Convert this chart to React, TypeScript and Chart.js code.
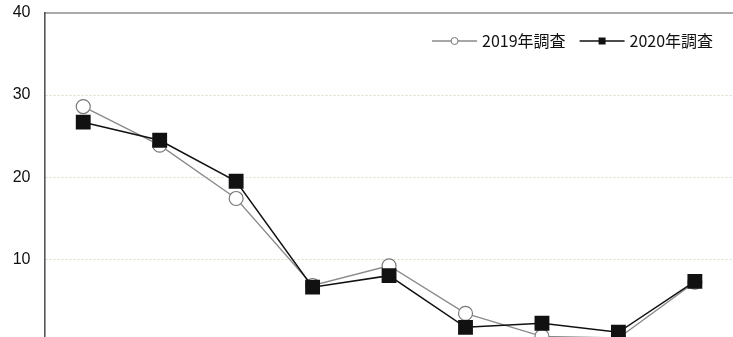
import React, { useEffect, useRef } from "react";
import { Chart, registerables } from "chart.js";

Chart.register(...registerables);

const categories = ["1", "2", "3", "4", "5", "6", "7", "8", "9"];
const series2019 = [28.6, 23.9, 17.4, 6.8, 9.2, 3.4, 0.6, 0.4, 7.2];
const series2020 = [26.7, 24.5, 19.5, 6.6, 8.0, 1.7, 2.2, 1.1, 7.3];
const seriesLabels = ["2019年調査", "2020年調査"];
const yTicks = [10, 20, 30, 40];

const legendPlugin = {
  id: "lineMarkerLegend",
  afterDraw(chart: any) {
    const { ctx, chartArea } = chart;
    const font = '16px "Noto Sans CJK JP", "Noto Sans", sans-serif';
    ctx.save();
    ctx.font = font;
    const sampleW = 45;
    const gapText = 5;
    const gapItem = 14;
    const y = chartArea.top + 28;
    const items = [
      { label: seriesLabels[0], line: "#8a8a8a", marker: "circle" },
      { label: seriesLabels[1], line: "#111111", marker: "rect" },
    ];
    const widths = items.map((it) => ctx.measureText(it.label).width);
    let total = 0;
    items.forEach((_, i) => {
      total += sampleW + gapText + widths[i];
      if (i < items.length - 1) total += gapItem;
    });
    let x = chartArea.right - 20 - total;
    items.forEach((it, i) => {
      ctx.strokeStyle = it.line;
      ctx.lineWidth = 1.3;
      ctx.beginPath();
      ctx.moveTo(x, y);
      ctx.lineTo(x + sampleW, y);
      ctx.stroke();
      const cx = x + sampleW / 2;
      if (it.marker === "circle") {
        ctx.beginPath();
        ctx.arc(cx, y, 3.5, 0, Math.PI * 2);
        ctx.fillStyle = "#fff";
        ctx.fill();
        ctx.strokeStyle = "#777";
        ctx.lineWidth = 1;
        ctx.stroke();
      } else {
        ctx.fillStyle = "#111";
        ctx.fillRect(cx - 3.5, y - 3.5, 7, 7);
      }
      ctx.fillStyle = "#111";
      ctx.textBaseline = "middle";
      ctx.textAlign = "left";
      ctx.fillText(it.label, x + sampleW + gapText, y);
      x += sampleW + gapText + widths[i] + gapItem;
    });
    ctx.strokeStyle = "#555";
    ctx.lineWidth = 1.2;
    ctx.beginPath();
    ctx.moveTo(chartArea.left, chartArea.top);
    ctx.lineTo(chartArea.right + 10, chartArea.top);
    ctx.stroke();
    ctx.restore();
  },
};

const bgPlugin = {
  id: "whiteBg",
  beforeDraw(chart: any) {
    const { ctx, width, height } = chart;
    ctx.save();
    ctx.fillStyle = "#fff";
    ctx.fillRect(0, 0, width, height);
    ctx.restore();
  },
};

export default function App() {
  const ref = useRef<HTMLCanvasElement | null>(null);
  useEffect(() => {
    if (!ref.current) return;
    const chart = new Chart(ref.current, {
      type: "line",
      data: {
        labels: categories,
        datasets: [
          {
            label: seriesLabels[0],
            data: series2019,
            order: 1,
            borderColor: "#8a8a8a",
            borderWidth: 1.3,
            pointStyle: "circle",
            pointRadius: 7,
            pointBackgroundColor: "#ffffff",
            pointBorderColor: "#777777",
            pointBorderWidth: 1.2,
            tension: 0,
          },
          {
            label: seriesLabels[1],
            data: series2020,
            order: 0,
            borderColor: "#111111",
            borderWidth: 1.5,
            pointStyle: "rect",
            pointRadius: 10.5,
            pointBackgroundColor: "#111111",
            pointBorderColor: "#111111",
            pointBorderWidth: 0,
            tension: 0,
          },
        ],
      },
      options: {
        animation: false,
        responsive: false,
        devicePixelRatio: 1,
        layout: { autoPadding: false, padding: { top: 13, right: 6.9, bottom: 9.7, left: 0 } },
        plugins: { legend: { display: false }, tooltip: { enabled: false } },
        scales: {
          x: {
            type: "category",
            offset: true,
            display: false,
            grid: { display: false },
          },
          y: {
            min: 0,
            max: 40,
            afterFit(scale: any) {
              scale.width = 45;
            },
            afterBuildTicks(scale: any) {
              scale.ticks = [0, ...yTicks].map((v) => ({ value: v }));
            },
            ticks: {
              padding: 0,
              color: "#111",
              font: { family: '"Liberation Sans", Arial, sans-serif', size: 16 },
              callback: (v: any) => (v === 0 ? "" : String(v)),
            },
            grid: {
              drawTicks: true,
              tickLength: 14.5,
              tickColor: "rgba(0,0,0,0)",
              color: (c: any) =>
                c.tick && (c.tick.value === 0 || c.tick.value === 40) ? "rgba(0,0,0,0)" : "#dcdcca",
              lineWidth: 1,
            },
            border: { display: true, color: "#555", width: 1.6, dash: [2, 2] },
          },
        },
      },
      plugins: [bgPlugin, legendPlugin],
    } as any);
    return () => chart.destroy();
  }, []);
  return (
    <div style={{ position: "absolute", left: 0, top: 0, width: 733, height: 337, overflow: "hidden", background: "#fff" }}>
      <canvas ref={ref} width={740} height={351} style={{ display: "block" }} />
    </div>
  );
}
